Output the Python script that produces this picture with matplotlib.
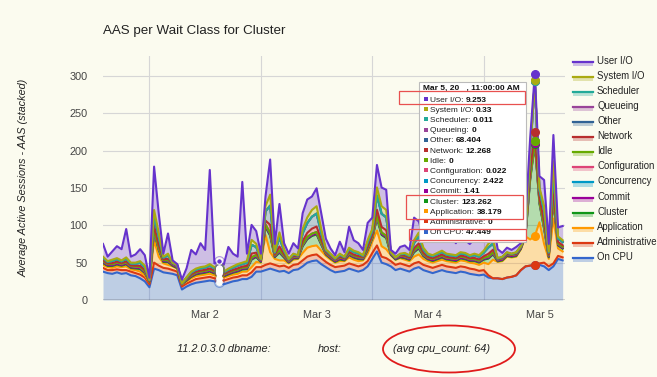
import numpy as np
import matplotlib
matplotlib.use("Agg")
import matplotlib.pyplot as plt
from matplotlib.patches import Rectangle, Ellipse
from matplotlib.lines import Line2D

plt.rcParams["font.family"] = ["Liberation Sans", "DejaVu Sans"]

W, H = 657, 377
BG = "#fbfbef"

# === data: hourly AAS per wait class, Mar 1 14:00 .. Mar 5 17:00 ===
day_labels = ["Mar 2", "Mar 3", "Mar 4", "Mar 5"]
first_hour = 14  # first sample is Mar 1, 14:00
hover_idx = 93   # Mar 5, 11:00 AM (tooltip)
focus_idx = 25   # highlighted point on Mar 2

cpu = [38, 36, 35, 37, 35, 36, 33, 32, 29, 25,
       17, 42, 40, 37, 36, 35, 33, 14, 18, 21,
       23, 24, 25, 26, 25, 24, 21, 23, 25, 26,
       28, 28, 31, 38, 38, 40, 42, 40, 38, 39,
       36, 40, 41, 45, 50, 52, 53, 48, 44, 40,
       37, 38, 39, 42, 40, 38, 40, 45, 55, 65,
       50, 48, 45, 40, 42, 40, 38, 42, 44, 40,
       38, 36, 38, 40, 38, 37, 36, 38, 37, 35,
       34, 33, 34, 30, 29, 29, 28, 30, 31, 33,
       40, 45, 46, 47.449, 47, 45, 40, 45, 55, 53]
administrative = [5, 4, 5, 4, 5, 4, 5, 4, 5, 5,
                  4, 8, 6, 6, 6, 5, 5, 4, 4, 4,
                  5, 5, 5, 5, 4, 5, 5, 5, 5, 5,
                  5, 5, 6, 6, 6, 7, 7, 7, 7, 7,
                  7, 7, 7, 8, 8, 8, 8, 8, 7, 7,
                  7, 7, 7, 7, 7, 7, 7, 7, 8, 8,
                  8, 8, 7, 7, 7, 7, 7, 7, 7, 7,
                  7, 7, 7, 7, 7, 7, 7, 7, 7, 7,
                  7, 6, 6, 3, 0, 0, 0, 0, 0, 0,
                  0, 0, 0, 0, 2, 5, 5, 4, 4, 4]
application = [4, 4, 3, 4, 4, 5, 3, 4, 4, 3,
               3, 30, 12, 6, 5, 5, 4, 3, 3, 4,
               4, 4, 4, 4, 4, 7, 4, 4, 4, 4,
               5, 5, 7, 7, 6, 40, 15, 8, 8, 7,
               6, 7, 7, 10, 12, 12, 12, 10, 8, 7,
               6, 7, 6, 8, 7, 7, 6, 10, 15, 20,
               14, 12, 8, 7, 7, 7, 7, 9, 10, 8,
               7, 7, 7, 7, 7, 7, 7, 8, 8, 8,
               8, 8, 10, 15, 25, 22, 24, 28, 26, 25,
               28, 40, 35, 38.179, 55, 25, 10, 60, 10, 8]
cluster = [2.5, 1.6, 2.5, 2.5, 1.9, 2.8, 1.9, 2.2, 3.4, 3.1,
           0.4, 11.2, 8.8, 1.9, 3.7, 0.7, 0.7, 0.1, 1.0, 1.9,
           2.2, 2.5, 2.5, 3.1, 2.5, 1.3, 1.6, 2.2, 2.5, 3.1,
           2.8, 3.4, 10.0, 6.4, 0.7, 10.6, 22.0, 2.2, 10.3, 3.7,
           1.0, 1.6, 0.7, 8.8, 11.2, 13.6, 14.8, 7.9, 1.9, 1.6,
           1.0, 2.2, 1.0, 3.1, 2.8, 2.8, 1.3, 4.6, 4.3, 16.3,
           15.1, 14.8, 0.4, 0.1, 1.0, 1.9, 1.6, 5.8, 7.9, 3.7,
           2.2, 2.2, 2.5, 2.8, 2.2, 2.2, 2.2, 2.5, 2.5, 2.2,
           3.1, 3.1, 4.0, 7.3, 7.0, 0.7, 1.0, 1.0, 0.7, 1.0,
           0.4, 0.7, 80, 123.262, 25, 20, 2.2, 25, 4.0, 3.7]
commit = [1.0, 1.0, 1.0, 1.0, 1.0, 1.0, 1.0, 1.0, 1.0, 1.0,
          0.5, 1.2, 1.1, 1.0, 1.0, 1.0, 1.0, 0.3, 0.8, 1.0,
          1.0, 1.0, 1.0, 1.0, 1.0, 1.0, 1.0, 1.0, 1.0, 1.0,
          1.0, 1.0, 1.2, 1.1, 1.0, 1.3, 1.4, 1.0, 1.2, 1.0,
          1.0, 1.0, 1.0, 1.1, 1.2, 1.2, 1.2, 1.1, 1.0, 1.0,
          1.0, 1.0, 1.0, 1.0, 1.0, 1.0, 1.0, 1.1, 1.1, 1.3,
          1.2, 1.2, 1.0, 1.0, 1.0, 1.0, 1.0, 1.1, 1.1, 1.0,
          1.0, 1.0, 1.0, 1.0, 1.0, 1.0, 1.0, 1.0, 1.0, 1.0,
          1.0, 1.0, 1.0, 1.1, 1.1, 1.0, 1.0, 1.0, 1.0, 1.0,
          1.0, 1.0, 1.3, 1.41, 1.2, 1.2, 1.0, 1.3, 1.0, 1.0]
concurrency = [1.5, 1.5, 1.5, 1.5, 1.5, 1.5, 1.5, 1.5, 1.5, 1.5,
               0.8, 1.8, 1.6, 1.5, 1.5, 1.5, 1.5, 0.5, 1.2, 1.5,
               1.5, 1.5, 1.5, 1.5, 1.5, 1.5, 1.5, 1.5, 1.5, 1.5,
               1.5, 1.5, 1.8, 1.6, 1.5, 1.9, 2.1, 1.5, 1.8, 1.5,
               1.5, 1.5, 1.5, 1.6, 1.8, 1.8, 1.8, 1.6, 1.5, 1.5,
               1.5, 1.5, 1.5, 1.5, 1.5, 1.5, 1.5, 1.6, 1.6, 1.9,
               1.8, 1.8, 1.5, 1.5, 1.5, 1.5, 1.5, 1.6, 1.6, 1.5,
               1.5, 1.5, 1.5, 1.5, 1.5, 1.5, 1.5, 1.5, 1.5, 1.5,
               1.5, 1.5, 1.5, 1.6, 1.6, 1.5, 1.5, 1.5, 1.5, 1.5,
               1.5, 1.5, 2.2, 2.422, 1.9, 1.9, 1.5, 2.0, 1.5, 1.5]
configuration = [0.1, 0.1, 0.1, 0.1, 0.1, 0.1, 0.1, 0.1, 0.1, 0.1,
                 0.1, 0.1, 0.1, 0.1, 0.1, 0.1, 0.1, 0.1, 0.1, 0.1,
                 0.1, 0.1, 0.1, 0.1, 0.1, 0.1, 0.1, 0.1, 0.1, 0.1,
                 0.1, 0.1, 0.1, 0.1, 0.1, 0.1, 0.1, 0.1, 0.1, 0.1,
                 0.1, 0.1, 0.1, 0.1, 0.1, 0.1, 0.1, 0.1, 0.1, 0.1,
                 0.1, 0.1, 0.1, 0.1, 0.1, 0.1, 0.1, 0.1, 0.1, 0.1,
                 0.1, 0.1, 0.1, 0.1, 0.1, 0.1, 0.1, 0.1, 0.1, 0.1,
                 0.1, 0.1, 0.1, 0.1, 0.1, 0.1, 0.1, 0.1, 0.1, 0.1,
                 0.1, 0.1, 0.1, 0.1, 0.1, 0.1, 0.1, 0.1, 0.1, 0.1,
                 0.1, 0.1, 0.1, 0.022, 0.1, 0.1, 0.1, 0.1, 0.1, 0.1]
idle = [0, 0, 0, 0, 0, 0, 0, 0, 0, 0,
        0, 0, 0, 0, 0, 0, 0, 0, 0, 0,
        0, 0, 0, 0, 0, 0, 0, 0, 0, 0,
        0, 0, 0, 0, 0, 0, 0, 0, 0, 0,
        0, 0, 0, 0, 0, 0, 0, 0, 0, 0,
        0, 0, 0, 0, 0, 0, 0, 0, 0, 0,
        0, 0, 0, 0, 0, 0, 0, 0, 0, 0,
        0, 0, 0, 0, 0, 0, 0, 0, 0, 0,
        0, 0, 0, 0, 0, 0, 0, 0, 0, 0,
        0, 0, 0, 0, 0, 0, 0, 0, 0, 0]
network = [1.3, 0.8, 1.3, 1.3, 1.0, 1.4, 1.0, 1.1, 1.7, 1.6,
           0.2, 5.6, 4.4, 1.0, 1.9, 0.4, 0.4, 0.1, 0.5, 1.0,
           1.1, 1.3, 1.3, 1.6, 1.3, 0.7, 0.8, 1.1, 1.3, 1.6,
           1.4, 1.7, 5.0, 3.2, 0.4, 5.3, 11.0, 1.1, 5.2, 1.9,
           0.5, 0.8, 0.4, 4.4, 5.6, 6.8, 7.4, 4.0, 1.0, 0.8,
           0.5, 1.1, 0.5, 1.6, 1.4, 1.4, 0.7, 2.3, 2.2, 8.2,
           7.6, 7.4, 0.2, 0.1, 0.5, 1.0, 0.8, 2.9, 4.0, 1.9,
           1.1, 1.1, 1.3, 1.4, 1.1, 1.1, 1.1, 1.3, 1.3, 1.1,
           1.6, 1.6, 2.0, 3.7, 3.5, 0.4, 0.5, 0.5, 0.4, 0.5,
           0.2, 0.4, 10, 12.268, 5, 7, 1.1, 11, 2.0, 1.9]
other = [2.9, 1.9, 2.9, 2.9, 2.2, 3.3, 2.2, 2.6, 4.0, 3.6,
         0.5, 13.1, 10.3, 2.2, 4.3, 0.8, 0.8, 0.1, 1.2, 2.2,
         2.6, 2.9, 2.9, 3.6, 2.9, 1.5, 1.9, 2.6, 2.9, 3.6,
         3.3, 4.0, 11.7, 7.5, 0.8, 12.4, 25.7, 2.6, 12.0, 4.3,
         1.2, 1.9, 0.8, 10.3, 13.1, 15.9, 17.3, 9.2, 2.2, 1.9,
         1.2, 2.6, 1.2, 3.6, 3.3, 3.3, 1.5, 5.4, 5.0, 19.0,
         17.6, 17.3, 0.5, 0.1, 1.2, 2.2, 1.9, 6.8, 9.2, 4.3,
         2.6, 2.6, 2.9, 3.3, 2.6, 2.6, 2.6, 2.9, 2.9, 2.6,
         3.6, 3.6, 4.7, 8.5, 8.2, 0.8, 1.2, 1.2, 0.8, 1.2,
         0.5, 0.8, 22, 68.404, 10, 14, 2.6, 25, 4.7, 4.3]
queueing = [0, 0, 0, 0, 0, 0, 0, 0, 0, 0,
            0, 0, 0, 0, 0, 0, 0, 0, 0, 0,
            0, 0, 0, 0, 0, 0, 0, 0, 0, 0,
            0, 0, 0, 0, 0, 0, 0, 0, 0, 0,
            0, 0, 0, 0, 0, 0, 0, 0, 0, 0,
            0, 0, 0, 0, 0, 0, 0, 0, 0, 0,
            0, 0, 0, 0, 0, 0, 0, 0, 0, 0,
            0, 0, 0, 0, 0, 0, 0, 0, 0, 0,
            0, 0, 0, 0, 0, 0, 0, 0, 0, 0,
            0, 0, 0, 0, 0, 0, 0, 0, 0, 0]
scheduler = [0, 0, 0, 0, 0, 0, 0, 0, 0, 0,
             0, 0, 0, 0, 0, 0, 0, 0, 0, 0,
             0, 0, 0, 0, 0, 0, 0, 0, 0, 0,
             0, 0, 0, 0, 0, 0, 0, 0, 0, 0,
             0, 0, 0, 0, 0, 0, 0, 0, 0, 0,
             0, 0, 0, 0, 0, 0, 0, 0, 0, 0,
             0, 0, 0, 0, 0, 0, 0, 0, 0, 0,
             0, 0, 0, 0, 0, 0, 0, 0, 0, 0,
             0, 0, 0, 0, 0, 0, 0, 0, 0, 0,
             0, 0, 0, 0.011, 0, 0, 0, 0, 0, 0]
system_io = [1.7, 1.1, 1.7, 1.7, 1.3, 1.9, 1.3, 1.5, 2.3, 2.1,
             0.3, 7.5, 5.9, 1.3, 2.5, 0.5, 0.5, 0.1, 0.7, 1.3,
             1.5, 1.7, 1.7, 2.1, 1.7, 0.9, 1.1, 1.5, 1.7, 2.1,
             1.9, 2.3, 6.7, 4.3, 0.5, 7.1, 14.7, 1.5, 6.9, 2.5,
             0.7, 1.1, 0.5, 5.9, 7.5, 9.1, 9.9, 5.3, 1.3, 1.1,
             0.7, 1.5, 0.7, 2.1, 1.9, 1.9, 0.9, 3.1, 2.9, 10.9,
             10.1, 9.9, 0.3, 0.1, 0.7, 1.3, 1.1, 3.9, 5.3, 2.5,
             1.5, 1.5, 1.7, 1.9, 1.5, 1.5, 1.5, 1.7, 1.7, 1.5,
             2.1, 2.1, 2.7, 4.9, 4.7, 0.5, 0.7, 0.7, 0.5, 0.7,
             0.3, 0.5, 4.4, 0.33, 3.4, 6.4, 1.5, 12.4, 2.7, 2.5]
user_io = [17, 6, 11, 16, 15, 38, 8, 11, 16, 14,
           3, 58, 26, 4, 27, 3, 1, 5, 12, 29,
           19, 32, 22, 126, 5, 9, 9, 29, 17, 10,
           108, 10, 20, 17, 7, 13, 47, 10, 38, 8,
           7, 14, 9, 21, 24, 18, 24, 21, 14, 7,
           4, 16, 6, 28, 14, 12, 7, 23, 15, 30,
           25, 27, 3, 5, 9, 10, 7, 30, 15, 15,
           18, 30, 19, 29, 16, 24, 16, 24, 17, 15,
           20, 30, 34, 45, 25, 12, 5, 6, 5, 7,
           4, 20, 16, 9.253, 15, 35, 10, 35, 12, 19]

# stacking order, bottom to top
names = ["On CPU", "Administrative", "Application", "Cluster", "Commit",
         "Concurrency", "Configuration", "Idle", "Network", "Other",
         "Queueing", "Scheduler", "System I/O", "User I/O"]
colors = ["#3366cc", "#dc3912", "#ff9900", "#109618", "#990099",
          "#0099c6", "#dd4477", "#66aa00", "#b82e2e", "#316395",
          "#994499", "#22aa99", "#aaaa11", "#6633cc"]
series = [cpu, administrative, application, cluster, commit, concurrency,
          configuration, idle, network, other, queueing, scheduler,
          system_io, user_io]

data = np.array(series, dtype=float)
x = np.arange(data.shape[1])
top = np.cumsum(data, axis=0)
bottom = np.vstack([np.zeros(len(x)), top[:-1]])


def fx(px):
    return px / W


def fy(py):
    return 1 - py / H


# === figure ===
fig = plt.figure(figsize=(W / 100, H / 100), dpi=100, facecolor=BG)
ax = fig.add_axes([fx(103), fy(300), 462 / W, 244 / H])
ax.set_facecolor(BG)

for k in range(len(names)):
    ax.fill_between(x, bottom[k], top[k], color=colors[k], alpha=0.3, lw=0, zorder=2)
for k in range(len(names)):
    ax.plot(x, top[k], color=colors[k], lw=1.5, zorder=3, solid_joinstyle="round")

# hover markers
for k in range(len(names)):
    ax.plot(x[hover_idx], top[k, hover_idx], "o", ms=5.5, color=colors[k],
            mec=colors[k], zorder=5)
for k in range(len(names)):
    ax.plot(x[focus_idx], top[k, focus_idx], "o", ms=7, mfc="none",
            mec=colors[k], mew=0.8, alpha=0.5, zorder=5)
    face = colors[k] if k == len(names) - 1 else "#fdfdf5"
    ax.plot(x[focus_idx], top[k, focus_idx], "o", ms=4, mfc=face,
            mec="white", mew=0.8, zorder=6)

midnights = [24 - first_hour + 24 * d for d in range(len(day_labels))]
noons = [m + 12 for m in midnights]
ax.set_xlim(0, 99.5)
ax.set_ylim(0, 326.5)
ax.set_yticks(range(0, 301, 50))
ax.set_xticks(midnights)
ax.set_xticklabels([])
ax.set_xticks(noons, minor=True)
ax.set_xticklabels(day_labels, minor=True)
ax.tick_params(which="both", length=0, labelsize=7.8, colors="#444444")
ax.tick_params(axis="y", pad=11)
ax.tick_params(axis="x", which="minor", pad=7)
ax.grid(True, which="major", color="#d6d6d6", lw=0.8, zorder=0)
for s in ax.spines.values():
    s.set_visible(False)
ax.axhline(0, color="#444444", lw=1.0, zorder=4)

# titles
fig.text(fx(103), fy(31), "AAS per Wait Class for Cluster", fontsize=9.6,
         color="#222222", va="center", ha="left")
fig.text(fx(24), fy(178), "Average Active Sessions - AAS (stacked)", fontsize=7.8,
         style="italic", color="#222222", rotation=90, va="center", ha="center")
for px_, txt in [(177, "11.2.0.3.0 dbname:"), (318, "host:"), (393, "(avg cpu_count: 64)")]:
    fig.text(fx(px_), fy(349), txt, fontsize=7.9, style="italic", color="#222222",
             va="center", ha="left")
fig.add_artist(Ellipse((fx(449), fy(349)), 132 / W, 47 / H, transform=fig.transFigure,
                       fill=False, ec="#e01b1b", lw=1.3))

# legend (top entry = top of stack)
for j, k in enumerate(range(len(names) - 1, -1, -1)):
    yc = 60.7 + 15.1 * j
    fig.add_artist(Rectangle((fx(573), fy(yc + 5)), 20 / W, 4 / H, transform=fig.transFigure,
                             fc=colors[k], alpha=0.3, lw=0))
    fig.add_artist(Line2D([fx(573), fx(593)], [fy(yc + 1), fy(yc + 1)],
                          transform=fig.transFigure, color=colors[k], lw=1.6))
    fig.text(fx(597), fy(yc), names[k], fontsize=6.9, color="#222222", va="center", ha="left")

# tooltip
fig.add_artist(Rectangle((fx(419), fy(242)), 107 / W, 160 / H, transform=fig.transFigure,
                         fc="white", ec="#bbbbbb", lw=0.8, zorder=10))
fig.text(fx(423), fy(88.5), "Mar 5, 20   , 11:00:00 AM", fontsize=6, fontweight="bold",
         color="#111111", va="center", ha="left", zorder=11)
renderer = fig.canvas.get_renderer()
for j, k in enumerate(range(len(names) - 1, -1, -1)):
    yc = 99 + 10.2 * j
    fig.add_artist(Rectangle((fx(423.5), fy(yc + 2)), 4 / W, 4 / H, transform=fig.transFigure,
                             fc=colors[k], lw=0, zorder=11))
    t = fig.text(fx(430), fy(yc + 2.5), names[k] + ": ", fontsize=6, color="#222222",
                 va="baseline", ha="left", zorder=11)
    bb = t.get_window_extent(renderer)
    fig.text(bb.x1 / W, fy(yc + 2.5), f"{data[k, hover_idx]:g}", fontsize=6,
             fontweight="bold", color="#111111", va="baseline", ha="left", zorder=11)

for (x0, y0, x1, y1) in [(399, 91, 525, 103.5), (406, 195, 523, 218.5), (409, 229, 526, 239.5)]:
    fig.add_artist(Rectangle((fx(x0), fy(y1)), (x1 - x0) / W, (y1 - y0) / H,
                             transform=fig.transFigure, fill=False, ec="#e8504f",
                             lw=0.9, zorder=12))

fig.savefig("out.png", dpi=100, facecolor=BG)
